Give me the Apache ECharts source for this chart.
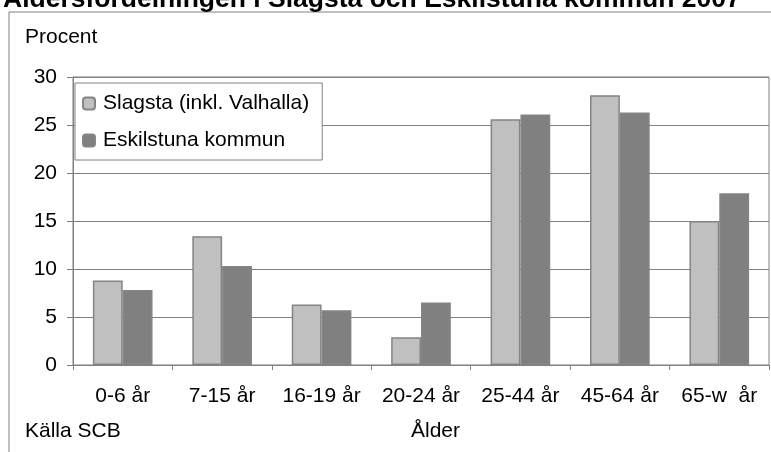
<!DOCTYPE html>
<html>
<head>
<meta charset="utf-8">
<script src="https://cdn.jsdelivr.net/npm/echarts@6/dist/echarts.min.js"></script>
<style>
  html, body { margin: 0; padding: 0; background: #fff; }
  #chart { width: 771px; height: 452px; }
</style>
</head>
<body>
<div id="chart"></div>
<script>
// age groups and shares (percent)
var categories = ['0-6 år', '7-15 år', '16-19 år', '20-24 år', '25-44 år', '45-64 år', '65-w  år'];
var slagsta = [8.8, 13.4, 6.3, 2.9, 25.6, 28.1, 15.0];
var eskilstuna = [7.8, 10.3, 5.7, 6.5, 26.1, 26.3, 17.9];
var yTicks = [0, 5, 10, 15, 20, 25, 30];

var font = 'Arial, "Liberation Sans", sans-serif';
var chart = echarts.init(document.getElementById('chart'));

chart.setOption({
    animation: false,
    backgroundColor: '#fff',
    textStyle: { fontFamily: font },
    title: {
        text: 'Åldersfördelningen i Slagsta och Eskilstuna kommun 2007',
        left: 3,
        top: -14,
        padding: 0,
        textStyle: { fontFamily: font, fontSize: 26.5, fontWeight: 'bold', color: '#000' }
    },
    graphic: [
        {
            type: 'rect', z: -1,
            shape: { x: 9, y: 12, width: 800, height: 500 },
            style: { fill: '#fff', stroke: '#808080', lineWidth: 1 }
        },
        { type: 'text', left: 25, top: 27, style: { text: 'Procent', font: '21px ' + font, fill: '#000' } },
        { type: 'text', left: 25, top: 421, style: { text: 'Källa SCB', font: '21px ' + font, fill: '#000' } },
        { type: 'text', left: 411, top: 421, style: { text: 'Ålder', font: '21px ' + font, fill: '#000' } }
    ],
    legend: {
        orient: 'vertical',
        left: 75,
        top: 83,
        padding: [10, 13, 9, 7],
        itemGap: 16,
        itemWidth: 12,
        itemHeight: 12,
        borderColor: '#808080',
        borderWidth: 1,
        backgroundColor: '#fff',
        textStyle: { fontFamily: font, fontSize: 21, color: '#000', padding: [0, 0, 0, 3] },
        data: ['Slagsta (inkl. Valhalla)', 'Eskilstuna kommun']
    },
    grid: {
        left: 73,
        right: 2,
        top: 77,
        bottom: 87,
        show: true,
        borderColor: '#808080',
        borderWidth: 1
    },
    xAxis: {
        type: 'category',
        data: categories,
        axisLine: { lineStyle: { color: '#808080', width: 1 } },
        axisTick: { show: true, length: 5, lineStyle: { color: '#808080' } },
        axisLabel: { color: '#000', fontSize: 21, fontFamily: font, margin: 21, interval: 0 }
    },
    yAxis: {
        type: 'value',
        min: yTicks[0],
        max: yTicks[yTicks.length - 1],
        interval: 5,
        axisLine: { show: true, lineStyle: { color: '#808080', width: 1 } },
        axisTick: { show: true, length: 6, lineStyle: { color: '#808080' } },
        axisLabel: { color: '#000', fontSize: 21, fontFamily: font, margin: 16 },
        splitLine: { lineStyle: { color: '#808080', width: 1 } }
    },
    series: [
        {
            name: 'Slagsta (inkl. Valhalla)',
            type: 'bar',
            data: slagsta,
            barGap: '0%',
            barCategoryGap: '40%',
            itemStyle: { color: '#c0c0c0', borderColor: '#848484', borderWidth: 1.5 }
        },
        {
            name: 'Eskilstuna kommun',
            type: 'bar',
            data: eskilstuna,
            itemStyle: { color: '#808080', borderColor: '#848484', borderWidth: 1.5 }
        }
    ]
});
</script>
</body>
</html>
